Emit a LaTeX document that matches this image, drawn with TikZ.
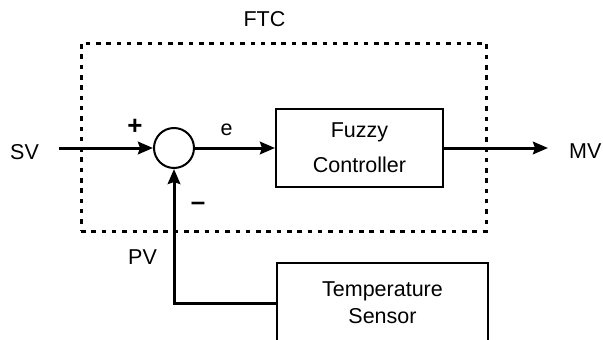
\documentclass[tikz,border=0pt]{standalone}
\usepackage{fontspec}
\setmainfont{Liberation Sans}
\usetikzlibrary{arrows.meta}
\begin{document}
\begin{tikzpicture}[x=1pt,y=-1pt,
  lbl/.style={inner sep=0pt, font=\fontsize{21.5}{25}\selectfont},
  sgn/.style={inner sep=0pt, font=\fontsize{26}{30}\selectfont\bfseries},
  blk/.style={draw, line width=2pt, inner sep=0pt, align=center},
  sig/.style={line width=3pt, -{Stealth[length=15pt,width=12.5pt,inset=2pt]}},
  grp/.style={draw, line width=3pt, dash pattern=on 4.5pt off 5.8pt, inner sep=0pt}]
\clip (0,0) rectangle (603,340);
\useasboundingbox (0,0) rectangle (603,340);
% group box
\node[grp, minimum width=405pt, minimum height=188pt] (ftcbox) at (283.5,137) {};
% blocks
\node[draw, circle, line width=2pt, minimum size=40pt, inner sep=0pt] (sum) at (174,148) {};
\node[blk, minimum width=167pt, minimum height=78pt, font=\fontsize{21.5}{35}\selectfont] (fc) at (359.5,148) {Fuzzy\\Controller};
\node[blk, minimum width=211pt, minimum height=80pt, font=\fontsize{21.5}{27}\selectfont] (ts) at (382.5,303) {Temperature\\Sensor};
% labels
\node[lbl, anchor=base] (sv) at (24.5,159) {SV};
\node[lbl, anchor=base west] (mv) at (569,158) {MV};
\node[lbl, anchor=base] (ftc) at (264.5,27) {FTC};
\node[lbl, anchor=base] (pv) at (142.5,264) {PV};
\node[sgn, anchor=base] (plus) at (135,134.5) {+};
\node[sgn, anchor=base] (minus) at (198,210.5) {–};
\node[lbl, anchor=base] (e) at (226.5,135) {e};
% free ends
\coordinate (svstart) at (59,148);
\coordinate (mvend) at (548,148);
% connectors
\draw[sig] (svstart) -- (sum.west);
\draw[sig] (sum.east) -- (fc.west);
\draw[sig] (fc.east) -- (mvend);
\draw[sig] (ts.west) -| (sum.south);
\end{tikzpicture}
\end{document}
